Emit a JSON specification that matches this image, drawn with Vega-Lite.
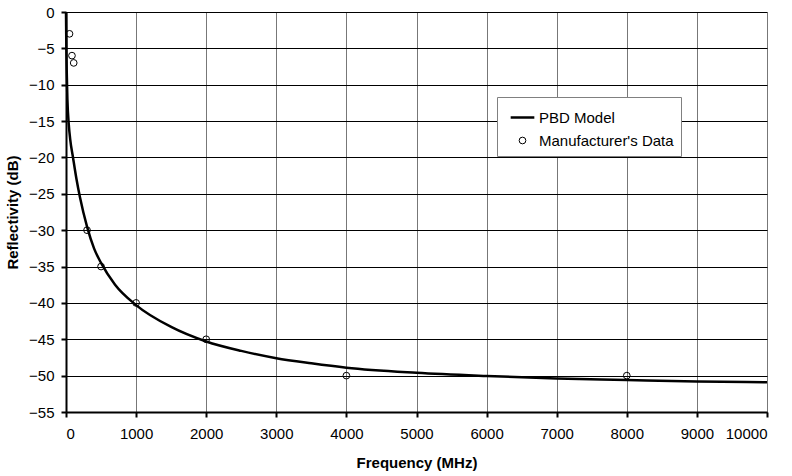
{
  "$schema": "https://vega.github.io/schema/vega-lite/v6.json",
  "width": 701,
  "height": 400,
  "autosize": {"type": "none"},
  "padding": {"left": 66, "top": 12, "right": 25, "bottom": 64},
  "background": "white",
  "config": {
    "font": "Liberation Sans",
    "view": {"stroke": null},
    "axis": {
      "labelFont": "Liberation Sans", "labelFontSize": 15, "labelColor": "#000",
      "titleFont": "Liberation Sans", "titleFontSize": 15, "titleFontWeight": "bold", "titleColor": "#000",
      "domainColor": "#000", "domainWidth": 2, "tickColor": "#000", "tickWidth": 2, "tickSize": 5
    },
    "legend": {
      "labelFont": "Liberation Sans", "labelFontSize": 15, "labelColor": "#000", "symbolOpacity": 1
    }
  },
  "data": {"values": [
    {"series": "PBD Model", "freq": 0, "refl": 0},
    {"series": "PBD Model", "freq": 2, "refl": -2},
    {"series": "PBD Model", "freq": 5, "refl": -5},
    {"series": "PBD Model", "freq": 10, "refl": -8},
    {"series": "PBD Model", "freq": 20, "refl": -12},
    {"series": "PBD Model", "freq": 40, "refl": -15.5},
    {"series": "PBD Model", "freq": 60, "refl": -17.5},
    {"series": "PBD Model", "freq": 100, "refl": -20},
    {"series": "PBD Model", "freq": 150, "refl": -23},
    {"series": "PBD Model", "freq": 200, "refl": -25.5},
    {"series": "PBD Model", "freq": 300, "refl": -29.5},
    {"series": "PBD Model", "freq": 400, "refl": -32.5},
    {"series": "PBD Model", "freq": 500, "refl": -34.5},
    {"series": "PBD Model", "freq": 700, "refl": -37.5},
    {"series": "PBD Model", "freq": 1000, "refl": -40.3},
    {"series": "PBD Model", "freq": 1500, "refl": -43.3},
    {"series": "PBD Model", "freq": 2000, "refl": -45.3},
    {"series": "PBD Model", "freq": 2500, "refl": -46.6},
    {"series": "PBD Model", "freq": 3000, "refl": -47.6},
    {"series": "PBD Model", "freq": 3500, "refl": -48.3},
    {"series": "PBD Model", "freq": 4000, "refl": -48.9},
    {"series": "PBD Model", "freq": 5000, "refl": -49.6},
    {"series": "PBD Model", "freq": 6000, "refl": -50.05},
    {"series": "PBD Model", "freq": 7000, "refl": -50.4},
    {"series": "PBD Model", "freq": 8000, "refl": -50.6},
    {"series": "PBD Model", "freq": 9000, "refl": -50.8},
    {"series": "PBD Model", "freq": 10000, "refl": -50.9},
    {"series": "Manufacturer's Data", "freq": 50, "refl": -3},
    {"series": "Manufacturer's Data", "freq": 85, "refl": -6},
    {"series": "Manufacturer's Data", "freq": 110, "refl": -7},
    {"series": "Manufacturer's Data", "freq": 300, "refl": -30},
    {"series": "Manufacturer's Data", "freq": 500, "refl": -35},
    {"series": "Manufacturer's Data", "freq": 1000, "refl": -40},
    {"series": "Manufacturer's Data", "freq": 2000, "refl": -45},
    {"series": "Manufacturer's Data", "freq": 4000, "refl": -50},
    {"series": "Manufacturer's Data", "freq": 8000, "refl": -50}
  ]},
  "encoding": {
    "x": {"field": "freq", "type": "quantitative", "title": "Frequency (MHz)",
      "scale": {"domain": [0, 10000], "nice": false},
      "axis": {"values": [0,1000,2000,3000,4000,5000,6000,7000,8000,9000,10000], "format": "d",
        "grid": true, "gridColor": "#777", "gridWidth": 1, "gridOpacity": 1, "labelPadding": 9, "titlePadding": 14}},
    "y": {"field": "refl", "type": "quantitative", "title": "Reflectivity (dB)",
      "scale": {"domain": [-55, 0], "nice": false},
      "axis": {"values": [0,-5,-10,-15,-20,-25,-30,-35,-40,-45,-50,-55], "format": "d",
        "grid": true, "gridColor": "#000", "gridWidth": 1, "gridOpacity": 1, "labelPadding": 7, "titlePadding": 8}}
  },
  "layer": [
    {
      "transform": [{"filter": "datum.series !== 'PBD Model'"}],
      "mark": {"type": "point", "filled": false, "size": 45, "opacity": 1},
      "encoding": {
        "color": {"field": "series", "type": "nominal",
          "scale": {"domain": ["PBD Model", "Manufacturer's Data"], "range": ["#000", "#000"]},
          "legend": {"title": null, "orient": "none", "legendX": 431, "legendY": 85,
            "strokeColor": "#808080", "fillColor": "#fff", "padding": 7, "rowPadding": 7, "labelOffset": 3, "symbolOffset": 5}},
        "shape": {"field": "series", "type": "nominal",
          "scale": {"domain": ["PBD Model", "Manufacturer's Data"], "range": ["stroke", "circle"]},
          "legend": {"title": null, "orient": "none", "legendX": 431, "legendY": 85,
            "strokeColor": "#808080", "fillColor": "#fff", "padding": 7, "rowPadding": 7, "labelOffset": 3, "symbolOffset": 5}},
        "size": {"field": "series", "type": "nominal",
          "scale": {"domain": ["PBD Model", "Manufacturer's Data"], "range": [560, 45]},
          "legend": {"title": null, "orient": "none", "legendX": 431, "legendY": 85,
            "strokeColor": "#808080", "fillColor": "#fff", "padding": 7, "rowPadding": 7, "labelOffset": 3, "symbolOffset": 5}},
        "strokeWidth": {"field": "series", "type": "nominal",
          "scale": {"domain": ["PBD Model", "Manufacturer's Data"], "range": [2.5, 1]},
          "legend": {"title": null, "orient": "none", "legendX": 431, "legendY": 85,
            "strokeColor": "#808080", "fillColor": "#fff", "padding": 7, "rowPadding": 7, "labelOffset": 3, "symbolOffset": 5}}
      }
    },
    {
      "transform": [{"filter": "datum.series === 'PBD Model'"}],
      "mark": {"type": "line", "strokeWidth": 2.5, "interpolate": "monotone", "opacity": 1},
      "encoding": {
        "color": {"field": "series", "type": "nominal"}
      }
    }
  ]
}
